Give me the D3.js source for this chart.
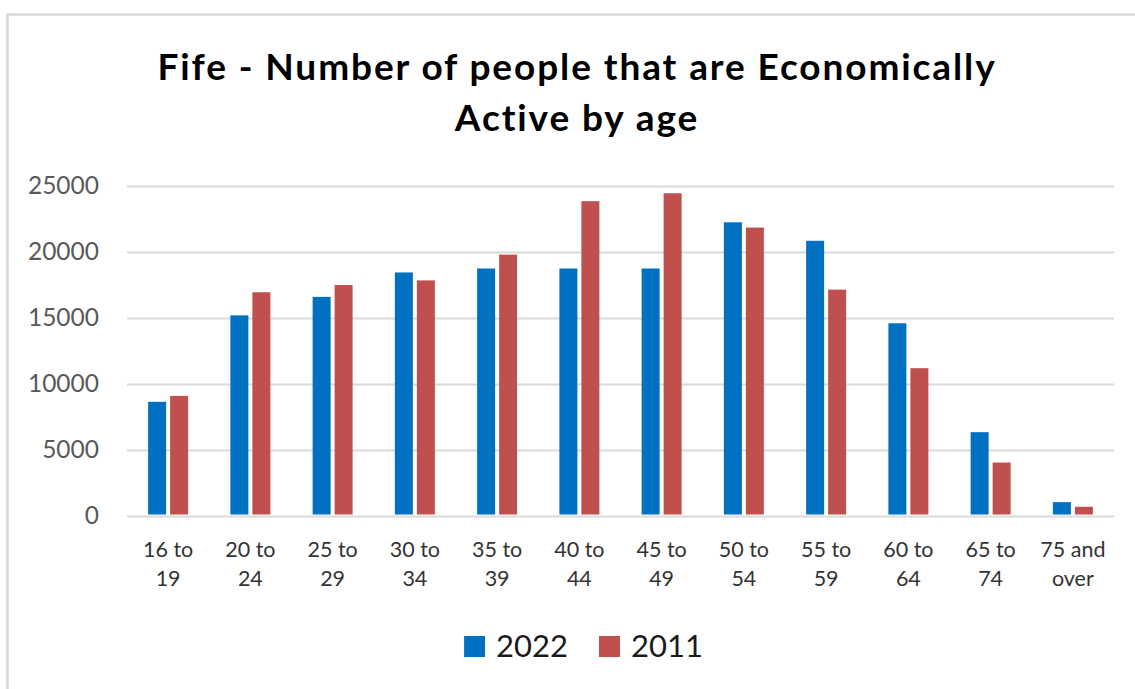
<!DOCTYPE html>
<html>
<head>
<meta charset="utf-8">
<script src="https://cdn.jsdelivr.net/npm/d3@7"></script>
<style>
  html, body { margin: 0; padding: 0; background: #fff; }
  svg { display: block; }
  text { font-family: Lato, "Open Sans", sans-serif; }
</style>
</head>
<body>
<svg id="chart" width="1135" height="689"></svg>
<script>
// Age bands (two-line labels) and economically active counts per census year
const categories = ["16 to 19", "20 to 24", "25 to 29", "30 to 34", "35 to 39", "40 to 44",
                    "45 to 49", "50 to 54", "55 to 59", "60 to 64", "65 to 74", "75 and over"];
const categoryLines = [["16 to", "19"], ["20 to", "24"], ["25 to", "29"], ["30 to", "34"],
                       ["35 to", "39"], ["40 to", "44"], ["45 to", "49"], ["50 to", "54"],
                       ["55 to", "59"], ["60 to", "64"], ["65 to", "74"], ["75 and", "over"]];
const seriesNames = ["2022", "2011"];
const values2022 = [8650, 15200, 16600, 18450, 18750, 18750, 18750, 22250, 20850, 14600, 6350, 1050];
const values2011 = [9100, 16950, 17500, 17850, 19800, 23850, 24450, 21850, 17150, 11200, 4050, 700];
const yTicks = [0, 5000, 10000, 15000, 20000, 25000];
const titleLines = ["Fife - Number of people that are Economically", "Active by age"];
const colors = { "2022": "#0070C0", "2011": "#C0504D" };

const seriesValues = { "2022": values2022, "2011": values2011 };
const svg = d3.select("#chart");

// Chart area frame
svg.append("rect")
  .attr("x", 7.5).attr("y", 14.5)
  .attr("width", 1200).attr("height", 800)
  .attr("fill", "#fff")
  .attr("stroke", "#d9d9d9")
  .attr("stroke-width", 2.5);

// Title
svg.append("g").selectAll("text")
  .data(titleLines)
  .join("text")
  .attr("x", 577)
  .attr("y", (d, i) => 80 + i * 51)
  .attr("text-anchor", "middle")
  .attr("font-family", "Lato, sans-serif")
  .attr("font-size", 37)
  .attr("letter-spacing", 1.9)
  .attr("font-weight", 700)
  .attr("fill", "#000")
  .text(d => d);

// Scales
const plot = { left: 127, right: 1114, top: 186, bottom: 516 };
const x0 = d3.scaleBand()
  .domain(categories)
  .range([plot.left, plot.right])
  .paddingInner(0.5137)
  .paddingOuter(0.2568);
const x1 = d3.scaleBand()
  .domain(seriesNames)
  .range([0, x0.bandwidth()])
  .paddingInner(4 / 22);
const y = d3.scaleLinear()
  .domain([0, 25000])
  .range([plot.bottom, plot.top]);

// Gridlines and y tick labels via a left axis
const yAxis = d3.axisLeft(y)
  .tickValues(yTicks)
  .tickSize(-(plot.right - plot.left))
  .tickPadding(28)
  .tickFormat(d3.format("d"));
const yg = svg.append("g")
  .attr("transform", `translate(${plot.left},0)`)
  .call(yAxis);
yg.select(".domain").remove();
yg.selectAll(".tick line")
  .attr("stroke", "#d9d9d9")
  .attr("stroke-width", 2);
yg.selectAll(".tick text")
  .attr("font-family", "Lato, sans-serif")
  .attr("font-size", 24.5)
  .attr("fill", "#595959");

// Bars
const groups = svg.append("g").selectAll("g")
  .data(categories)
  .join("g")
  .attr("transform", d => `translate(${x0(d)},0)`);
groups.selectAll("rect")
  .data((c, i) => seriesNames.map(s => ({ series: s, value: seriesValues[s][i] })))
  .join("rect")
  .attr("x", d => x1(d.series))
  .attr("width", x1.bandwidth())
  .attr("y", d => y(d.value))
  .attr("height", d => y(0) - y(d.value) - 1.5)
  .attr("fill", d => colors[d.series]);

// Category labels (two lines each)
const catG = svg.append("g").selectAll("text")
  .data(categories)
  .join("text")
  .attr("text-anchor", "middle")
  .attr("font-size", 21.5)
  .attr("fill", "#333");
catG.selectAll("tspan")
  .data((c, i) => categoryLines[i].map((t, j) => ({ t, j, c })))
  .join("tspan")
  .attr("x", d => x0(d.c) + x0.bandwidth() / 2)
  .attr("y", d => 557 + d.j * 29)
  .text(d => d.t);

// Legend
const legend = svg.append("g");
const items = legend.selectAll("g")
  .data(seriesNames)
  .join("g");
items.append("rect")
  .attr("width", 21).attr("height", 21)
  .attr("y", 636)
  .attr("fill", d => colors[d]);
items.append("text")
  .attr("x", 32)
  .attr("y", 657)
  .attr("font-size", 31)
  .attr("fill", "#1a1a1a")
  .text(d => d);
let cursor = 0;
const gap = 31;
const widths = [];
items.each(function () {
  const w = 32 + d3.select(this).select("text").node().getComputedTextLength();
  widths.push(w);
});
const total = d3.sum(widths) + gap * (widths.length - 1);
const startX = 583.5 - total / 2;
items.attr("transform", (d, i) => {
  const tx = startX + cursor;
  cursor += widths[i] + gap;
  return `translate(${tx},0)`;
});
</script>
</body>
</html>
